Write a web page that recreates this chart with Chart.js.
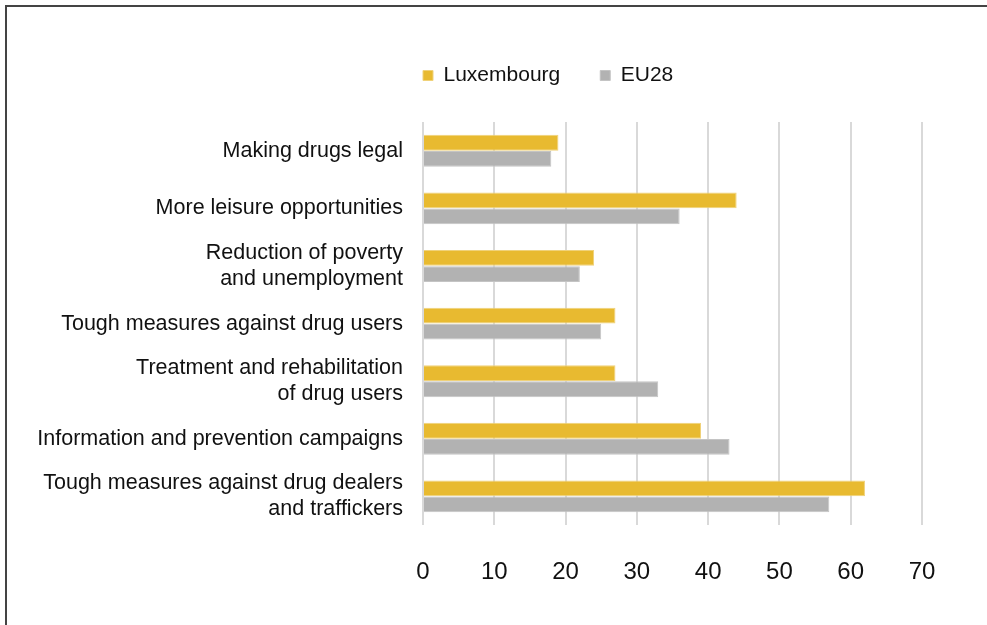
<!DOCTYPE html>
<html>
<head>
<meta charset="utf-8">
<script src="https://cdn.jsdelivr.net/npm/chart.js@4"></script>
<style>
  body { margin: 0; background: #fff; }
  #frame {
    position: absolute; left: 5px; top: 5px;
    width: 982px; height: 620px;
    border-left: 2px solid #444; border-top: 2px solid #444;
  }
  #chart { display: block; }
</style>
</head>
<body>
<div id="frame"><canvas id="chart"></canvas></div>
<script>
const categories = [
  'Making drugs legal',
  'More leisure opportunities',
  ['Reduction of poverty', 'and unemployment'],
  'Tough measures against drug users',
  ['Treatment and rehabilitation', 'of drug users'],
  'Information and prevention campaigns',
  ['Tough measures against drug dealers', 'and traffickers']
];
const luxembourg = [19, 44, 24, 27, 27, 39, 62];
const eu28 = [18, 36, 22, 25, 33, 43, 57];
const xTicks = [0, 10, 20, 30, 40, 50, 60, 70];

const canvas = document.getElementById('chart');
canvas.width = 980;
canvas.height = 618;

Chart.defaults.font.family = '"Liberation Sans", Arial, sans-serif';
Chart.defaults.color = '#111';

const legendPad = 40;

// put the legend above the plot, starting at the zero line
const legendShift = {
  id: 'legendShift',
  afterLayout(chart) {
    const lg = chart.legend;
    lg.left = chart.chartArea.left - legendPad;
    lg.top -= 26;
  }
};

const ctx = canvas.getContext('2d');
new Chart(ctx, {
  type: 'bar',
  data: {
    labels: categories,
    datasets: [{
      label: 'Luxembourg',
      data: luxembourg,
      backgroundColor: '#E8BA30',
      borderColor: '#F0D27A',
      borderWidth: 1,
      barPercentage: 0.98,
      categoryPercentage: 0.56
    }, {
      label: 'EU28',
      data: eu28,
      backgroundColor: '#B2B2B2',
      borderColor: '#C4C4C4',
      borderWidth: 1,
      barPercentage: 0.98,
      categoryPercentage: 0.56
    }]
  },
  plugins: [legendShift],
  options: {
    indexAxis: 'y',
    responsive: false,
    animation: false,
    layout: { padding: { top: 44, right: 65, bottom: 5, left: 0 } },
    plugins: {
      legend: {
        position: 'top',
        align: 'start',
        fullSize: false,
        labels: {
          boxWidth: 10,
          boxHeight: 10,
          padding: legendPad,
          font: { size: 21 },
          color: '#111'
        }
      },
      tooltip: { enabled: false }
    },
    scales: {
      x: {
        min: 0,
        max: 70,
        afterBuildTicks: scale => { scale.ticks = xTicks.map(v => ({ value: v })); },
        grid: { color: '#D9D9D9', lineWidth: 2, drawTicks: false },
        border: { display: false },
        ticks: { padding: 33, font: { size: 24 }, color: '#111' }
      },
      y: {
        afterFit: scale => { scale.width = 416; },
        grid: { display: false },
        border: { display: false },
        ticks: { padding: 12, autoSkip: false, font: { size: 21.5 }, color: '#111' }
      }
    }
  }
});
</script>
</body>
</html>
